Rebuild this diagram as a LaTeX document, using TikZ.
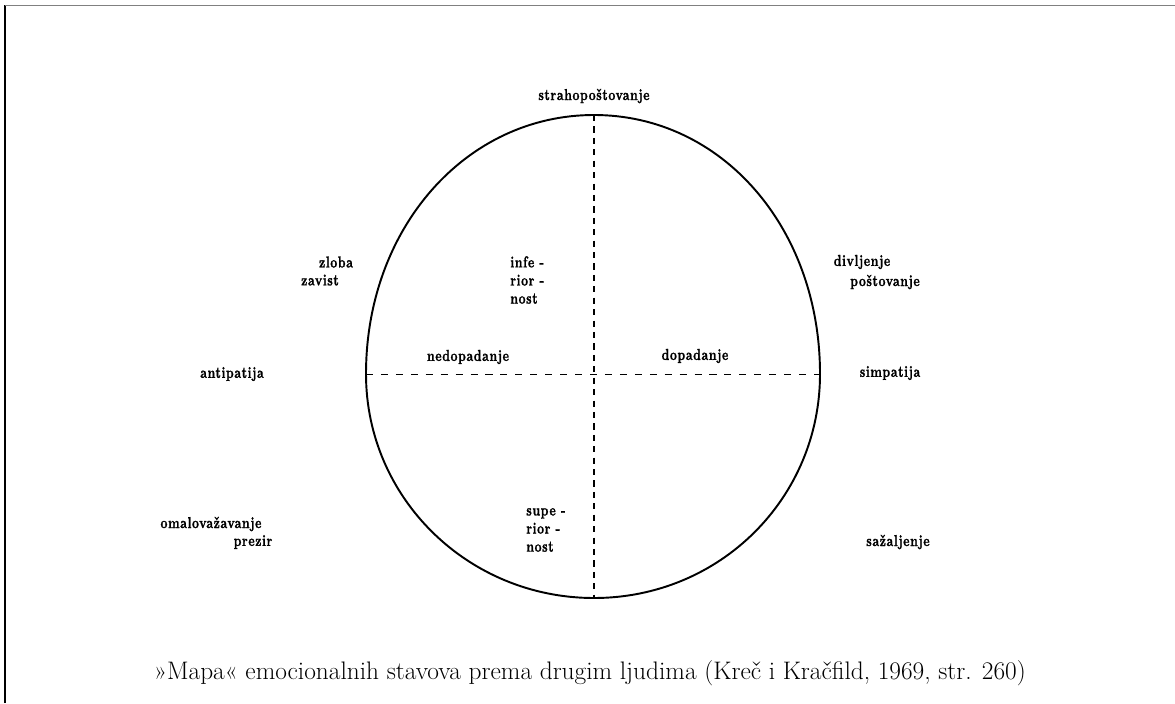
\documentclass[tikz,border=0pt]{standalone}
\usepackage{fontspec}
\newfontfamily\lblfont[LetterSpace=4,FakeStretch=0.76,FakeBold=1.2,UprightFont=*-bold,Extension=.otf]{lmroman10}
\usepackage{tikz}
\usetikzlibrary{positioning}

\begin{document}
\begin{tikzpicture}[x=0.02cm,y=-0.02cm,
 lbl/.style={inner sep=0pt,font=\lblfont\fontsize{9}{10.3}\selectfont},
 vaxis/.style={line width=0.6pt,dash pattern=on 3.5pt off 3pt},
 haxis/.style={line width=0.5pt,dash pattern=on 4pt off 4.5pt}]
 \useasboundingbox (0,0) rectangle (1175,703);
 \draw[line width=1.2pt](5,703)--(5,5);
 \draw[gray,line width=0.5pt](5,5)--(1175,5);
 \coordinate (lft) at (366,374); \coordinate (rgt) at (820,374);
 \coordinate (top) at (594,115); \coordinate (bot) at (594,598);
 \draw[line width=1.1pt](lft) .. controls (366,228) and (466,115) .. (top)
   .. controls (722,115) and (820,228) .. (rgt)
   .. controls (820,498) and (720,598) .. (bot)
   .. controls (468,598) and (366,498) .. (lft);
 \draw[vaxis](top)--(bot);
 \draw[haxis](lft)--(rgt);
 \node[lbl] (strah) at (594,96) {strahopoštovanje};
 \node[lbl] (zloba) at (336,262) {zloba};
 \node[lbl] (zavist) at (320,280) {zavist};
 \node[lbl,align=left,anchor=west] (infer) at (510,280) {infe -\\rior -\\nost};
 \node[lbl] (divlj) at (862,262) {divljenje};
 \node[lbl] (postov) at (885,282) {poštovanje};
 \node[lbl] (nedop) at (468,357) {nedopadanje};
 \node[lbl] (dop) at (695,356) {dopadanje};
 \node[lbl] (antip) at (232,374) {antipatija};
 \node[lbl] (simp) at (890,373) {simpatija};
 \node[lbl,align=left,anchor=west] (super) at (526,530) {supe -\\rior -\\nost};
 \node[lbl] (omalov) at (211,524) {omalovažavanje};
 \node[lbl] (prezir) at (253,542) {prezir};
 \node[lbl] (sazal) at (898,542) {sažaljenje};
 \node[font=\fontsize{15}{18}\selectfont,inner sep=0pt,transform shape,scale=0.962] (cap) at (590,673)
   {»Mapa« emocionalnih stavova prema drugim ljudima (Kreč i Kračfild, 1969, str. 260)};
\end{tikzpicture}
\end{document}
